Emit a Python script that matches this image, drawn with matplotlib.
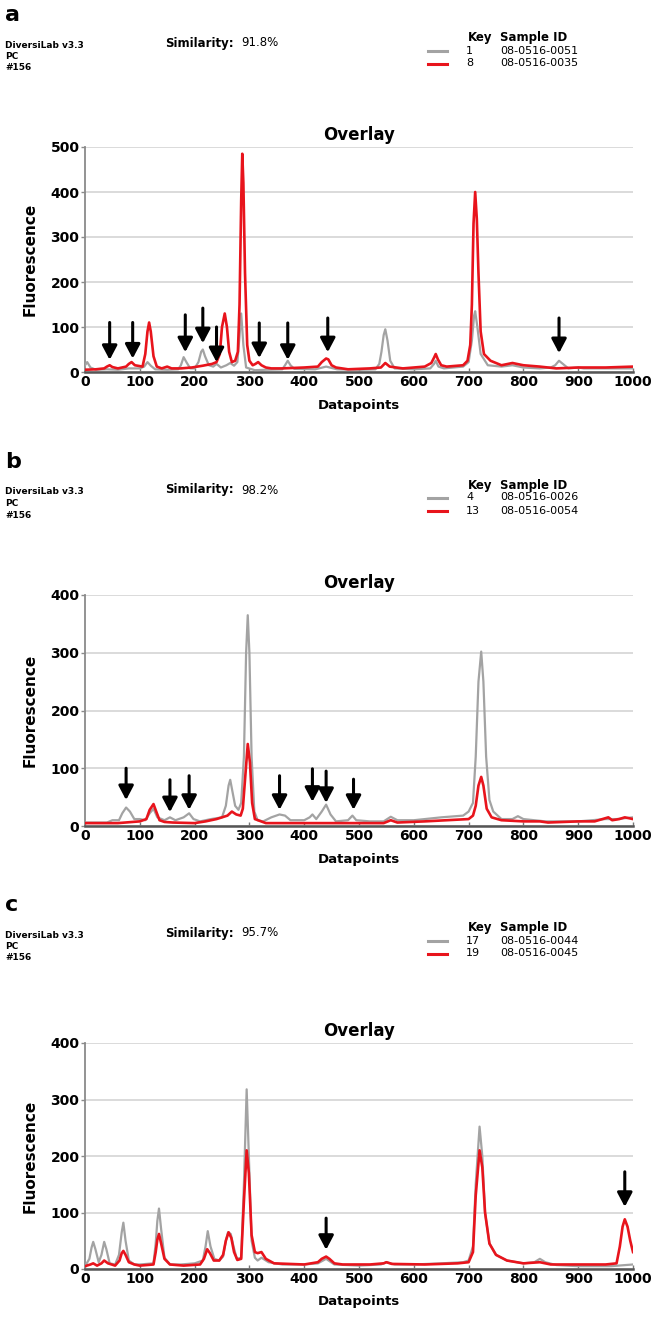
import matplotlib
matplotlib.use("Agg")
import matplotlib.pyplot as plt

W, H = 664, 1321
GRAY = "#a3a3a3"
RED = "#e8141c"

# panel header info
letters = ["a", "b", "c"]
similarity = ["91.8%", "98.2%", "95.7%"]
keys = [["1", "8"], ["4", "13"], ["17", "19"]]
sample_ids = [["08-0516-0051", "08-0516-0035"],
              ["08-0516-0026", "08-0516-0054"],
              ["08-0516-0044", "08-0516-0045"]]
y_max = [500, 400, 400]

# traces (datapoint, fluorescence)
a_gray = [(0, 15), (4, 22), (10, 10), (20, 5), (40, 6), (60, 5), (80, 8), (100, 8), (108, 12), (114, 22),
          (120, 14), (128, 6), (150, 5), (170, 6), (175, 15), (180, 33), (185, 22), (192, 8), (200, 8),
          (207, 22), (212, 45), (215, 50), (219, 35), (226, 15), (234, 12), (240, 18), (248, 10), (258, 15),
          (265, 20), (272, 14), (278, 22), (282, 80), (285, 130), (289, 60), (294, 10), (310, 4), (330, 5),
          (360, 6), (365, 15), (370, 25), (375, 15), (382, 7), (420, 6), (440, 12), (460, 6), (500, 5),
          (530, 6), (537, 18), (541, 45), (545, 82), (548, 95), (552, 70), (557, 25), (565, 8), (600, 6),
          (630, 8), (637, 18), (640, 25), (645, 12), (655, 8), (690, 12), (700, 22), (706, 70), (710, 125),
          (712, 135), (716, 100), (722, 40), (735, 15), (760, 12), (780, 15), (800, 10), (830, 8), (850, 10),
          (858, 15), (865, 25), (872, 18), (882, 8), (900, 10), (910, 8), (950, 8), (1000, 8)]
a_red = [(0, 5), (20, 6), (35, 8), (40, 12), (45, 15), (50, 11), (60, 8), (75, 12), (80, 18), (85, 22),
         (91, 15), (105, 12), (110, 40), (114, 90), (117, 110), (120, 90), (125, 35), (131, 12), (140, 8),
         (150, 12), (158, 8), (175, 8), (195, 10), (215, 14), (232, 18), (240, 22), (246, 40), (250, 100),
         (255, 130), (259, 100), (263, 45), (268, 22), (274, 25), (279, 45), (282, 150), (285, 380),
         (287, 485), (289, 420), (292, 220), (296, 60), (300, 25), (306, 15), (311, 18), (316, 22),
         (322, 15), (330, 10), (340, 8), (360, 8), (400, 10), (425, 12), (432, 22), (440, 30), (444, 28),
         (450, 15), (458, 10), (480, 6), (520, 8), (540, 10), (548, 20), (556, 12), (580, 8), (620, 12),
         (632, 20), (637, 32), (640, 40), (644, 28), (650, 15), (660, 12), (690, 15), (698, 25), (703, 60),
         (706, 150), (709, 330), (712, 400), (715, 340), (718, 220), (722, 90), (728, 40), (740, 25),
         (760, 15), (780, 20), (800, 15), (830, 12), (860, 8), (900, 10), (950, 10), (1000, 12)]

b_gray = [(0, 6), (40, 6), (50, 10), (62, 10), (68, 22), (75, 32), (82, 25), (90, 12), (100, 12), (110, 10),
          (118, 22), (125, 30), (132, 15), (145, 10), (155, 15), (165, 10), (180, 15), (190, 22), (198, 12),
          (210, 8), (230, 12), (250, 15), (257, 35), (262, 70), (265, 80), (269, 60), (274, 35), (280, 28),
          (285, 40), (290, 120), (294, 300), (297, 365), (300, 300), (304, 120), (309, 25), (315, 10),
          (325, 8), (340, 15), (355, 20), (365, 18), (375, 10), (400, 10), (410, 15), (415, 20), (422, 12),
          (432, 25), (440, 37), (448, 20), (458, 8), (480, 10), (488, 18), (495, 10), (520, 8), (545, 8),
          (558, 16), (570, 10), (600, 10), (650, 15), (690, 18), (700, 25), (708, 40), (713, 120), (718, 250),
          (723, 302), (727, 250), (732, 120), (738, 45), (745, 25), (760, 12), (780, 12), (790, 17),
          (800, 12), (840, 8), (900, 8), (925, 10), (950, 12), (970, 12), (1000, 15)]
b_red = [(0, 5), (60, 5), (100, 8), (112, 12), (118, 28), (125, 38), (130, 25), (136, 10), (145, 7), (160, 6),
         (200, 5), (220, 8), (240, 12), (260, 18), (268, 25), (276, 20), (284, 18), (288, 30), (292, 80),
         (297, 142), (301, 110), (305, 40), (310, 12), (330, 5), (400, 5), (500, 5), (545, 5), (558, 10),
         (570, 6), (620, 8), (660, 10), (700, 12), (708, 18), (713, 35), (718, 70), (723, 85), (727, 70),
         (733, 30), (742, 15), (760, 10), (800, 8), (830, 8), (845, 6), (900, 8), (930, 8), (955, 15),
         (962, 10), (975, 12), (985, 15), (1000, 12)]

c_gray = [(0, 5), (8, 18), (12, 38), (15, 48), (19, 35), (25, 12), (30, 25), (35, 48), (39, 35), (45, 10),
          (55, 8), (62, 25), (67, 65), (70, 82), (74, 50), (80, 15), (90, 8), (100, 8), (125, 10), (129, 45),
          (132, 85), (135, 107), (139, 70), (145, 20), (155, 8), (175, 8), (200, 10), (215, 15), (220, 40),
          (224, 67), (229, 40), (236, 18), (245, 15), (252, 22), (257, 50), (261, 65), (266, 62), (271, 40),
          (277, 18), (285, 20), (290, 150), (295, 318), (299, 200), (304, 50), (310, 20), (315, 15),
          (322, 20), (335, 12), (360, 8), (400, 8), (425, 10), (440, 18), (455, 8), (500, 6), (540, 8),
          (550, 12), (565, 8), (600, 8), (650, 10), (690, 12), (700, 15), (708, 40), (713, 150), (720, 252),
          (725, 200), (730, 100), (738, 45), (750, 25), (770, 15), (800, 10), (820, 12), (830, 18),
          (840, 12), (860, 7), (900, 5), (960, 5), (1000, 8)]
c_red = [(0, 5), (10, 8), (15, 10), (22, 6), (30, 10), (35, 15), (42, 10), (55, 6), (63, 15), (67, 28),
         (70, 32), (74, 25), (80, 12), (90, 8), (100, 6), (125, 8), (129, 30), (132, 52), (135, 62),
         (139, 45), (145, 18), (155, 8), (180, 6), (210, 8), (217, 18), (223, 35), (228, 28), (235, 15),
         (245, 15), (252, 25), (257, 50), (262, 65), (267, 55), (272, 30), (278, 16), (285, 18), (290, 120),
         (295, 210), (299, 170), (304, 60), (310, 30), (315, 28), (322, 30), (330, 18), (345, 10), (400, 8),
         (425, 12), (432, 18), (440, 22), (446, 18), (455, 10), (470, 8), (520, 8), (545, 10), (550, 12),
         (560, 9), (620, 8), (680, 10), (700, 12), (708, 30), (713, 130), (720, 210), (725, 180), (730, 100),
         (738, 45), (750, 25), (770, 15), (800, 10), (830, 12), (850, 8), (900, 8), (950, 8), (970, 10),
         (976, 40), (981, 75), (985, 88), (990, 75), (995, 50), (1000, 30)]

# arrows: (datapoint, top, tip)
a_arrows = [(45, 110, 27), (87, 110, 30), (183, 127, 44), (215, 142, 64), (240, 100, 22),
            (318, 109, 31), (370, 109, 27), (443, 120, 44), (865, 120, 42)]
b_arrows = [(75, 100, 45), (155, 80, 24), (190, 87, 28), (355, 87, 28), (415, 99, 42),
            (440, 95, 40), (490, 81, 28)]
c_arrows = [(440, 90, 34), (985, 172, 110)]

traces = [(a_gray, a_red), (b_gray, b_red), (c_gray, c_red)]
arrows = [a_arrows, b_arrows, c_arrows]

# pixel layout: (axes top, axes bottom, header top)
axes_px = [(147, 372, 15), (595, 826, 462), (1043, 1269, 905)]
AX_L, AX_R = 85, 633

fig = plt.figure(figsize=(W / 100, H / 100), dpi=100)


def fy(py):
    return 1 - py / H


def fx(px):
    return px / W


for i in range(3):
    top, bot, htop = axes_px[i]
    ax = fig.add_axes([fx(AX_L), fy(bot), (AX_R - AX_L) / W, (bot - top) / H])

    g, r = traces[i]
    gx, gy = zip(*g)
    rx, ry = zip(*r)
    ax.plot(gx, gy, color=GRAY, lw=1.6, zorder=3, solid_joinstyle="round")
    ax.plot(rx, ry, color=RED, lw=1.9, zorder=4, solid_joinstyle="round")

    for x, t0, t1 in arrows[i]:
        ax.annotate("", xy=(x, t1), xytext=(x, t0),
                    arrowprops=dict(arrowstyle="-|>,head_length=0.85,head_width=0.45",
                                    color="black", lw=2.2, shrinkA=0, shrinkB=0),
                    zorder=5)

    ax.set_xlim(0, 1000)
    ax.set_ylim(0, y_max[i])
    ax.set_xticks(range(0, 1001, 100))
    ax.set_yticks(range(0, y_max[i] + 1, 100))
    ax.grid(axis="y", color="#d4d4d4", lw=1.2)
    ax.set_axisbelow(True)
    for s in ["top", "right"]:
        ax.spines[s].set_visible(False)
    ax.spines["left"].set_color("#8a8a8a")
    ax.spines["left"].set_linewidth(1.3)
    ax.spines["bottom"].set_color("#555555")
    ax.spines["bottom"].set_linewidth(1.8)
    ax.tick_params(axis="x", direction="in", length=3, width=1, color="#777777", pad=2,
                   labelsize=10)
    ax.tick_params(axis="y", direction="out", length=3, width=1, color="#8a8a8a", pad=1,
                   labelsize=10)
    for lab in ax.get_xticklabels() + ax.get_yticklabels():
        lab.set_fontweight("bold")
    ax.set_xlabel("Datapoints", fontsize=9.5, fontweight="bold", labelpad=7)
    ax.set_ylabel("Fluorescence", fontsize=11, fontweight="semibold", labelpad=9)
    ax.set_title("Overlay", fontsize=12, fontweight="bold", pad=5)

    # header block
    fig.text(fx(5), fy(htop), letters[i], fontsize=16, fontweight="bold", va="center")
    h0 = htop + 30
    fig.text(fx(5), fy(h0), "DiversiLab v3.3", fontsize=6.5, fontweight="bold", va="center")
    fig.text(fx(5), fy(h0 + 11.5), "PC", fontsize=6.5, fontweight="bold", va="center")
    fig.text(fx(5), fy(h0 + 23), "#156", fontsize=6.5, fontweight="bold", va="center")
    fig.text(fx(165), fy(h0 - 2), "Similarity:", fontsize=8.5, fontweight="bold", va="center")
    fig.text(fx(241), fy(h0 - 2), similarity[i], fontsize=8.5, va="center")
    fig.text(fx(468), fy(h0 - 7), "Key", fontsize=8.5, fontweight="bold", va="center")
    fig.text(fx(500), fy(h0 - 7), "Sample ID", fontsize=8.5, fontweight="bold", va="center")
    for j, col in enumerate([GRAY, RED]):
        yy = h0 + 5.5 + j * 13
        fig.add_artist(plt.Line2D([fx(428), fx(447)], [fy(yy), fy(yy)], color=col, lw=2.2))
        fig.text(fx(466), fy(yy), keys[i][j], fontsize=8, va="center")
        fig.text(fx(500), fy(yy), sample_ids[i][j], fontsize=8, va="center")

fig.savefig("out.png", dpi=100)
